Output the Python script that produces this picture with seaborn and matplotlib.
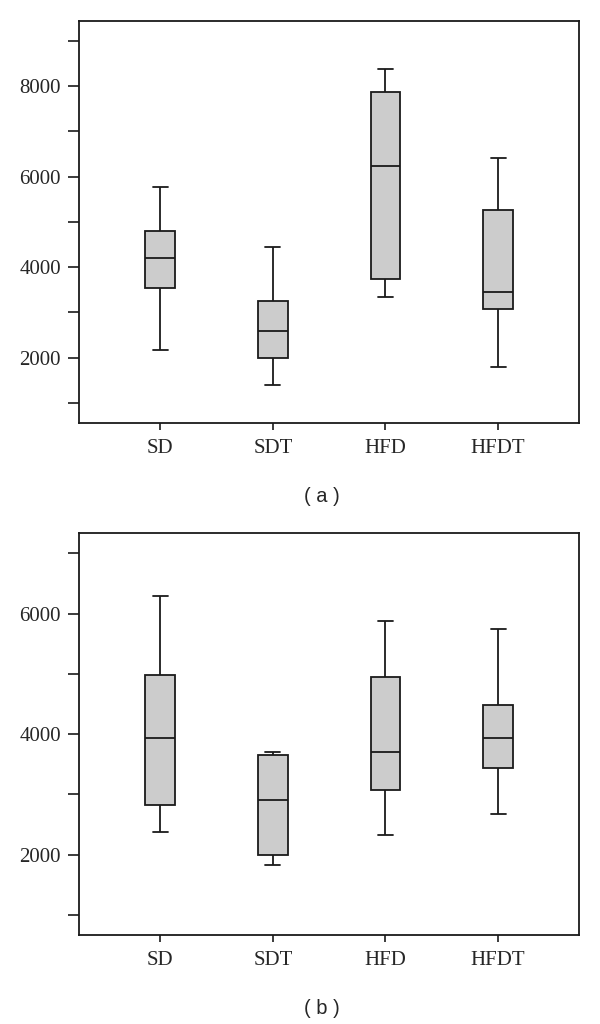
import numpy as np
import pandas as pd
import matplotlib
matplotlib.use("Agg")
import matplotlib.pyplot as plt
from matplotlib.ticker import MultipleLocator
import seaborn as sns

# groups on the x axis
groups = ["SD", "SDT", "HFD", "HFDT"]

# five-number summaries: min, q1, median, q3, max
# panel (a)
a_sd = [2170, 3530, 4205, 4800, 5760]
a_sdt = [1400, 2000, 2600, 3250, 4455]
a_hfd = [3350, 3730, 6240, 7868, 8368]
a_hfdt = [1790, 3070, 3460, 5255, 6418]
# panel (b)
b_sd = [2382, 2832, 3928, 4974, 6293]
b_sdt = [1828, 1994, 2910, 3646, 3696]
b_hfd = [2332, 3076, 3696, 4952, 5884]
b_hfdt = [2678, 3430, 3939, 4492, 5740]


def long_frame(series):
    rows = []
    for g, vals in zip(groups, series):
        for v in vals:
            rows.append((g, v))
    return pd.DataFrame(rows, columns=["group", "value"])


df_a = long_frame([a_sd, a_sdt, a_hfd, a_hfdt])
df_b = long_frame([b_sd, b_sdt, b_hfd, b_hfdt])

sns.set_style("ticks")
plt.rcParams["font.family"] = ["Liberation Serif", "DejaVu Serif"]

fig = plt.figure(figsize=(6, 10.24), dpi=100)
ax_a = fig.add_axes([0.1317, 0.5866, 0.8338, 0.3932])
ax_b = fig.add_axes([0.1317, 0.0866, 0.8338, 0.3932])


def draw(ax, df, ylim, label, label_y):
    sns.boxplot(data=df, x="group", y="value", order=groups, ax=ax,
                whis=(0, 100), width=0.264, color="#cccccc",
                linecolor="#1a1a1a", linewidth=1.3, saturation=1)
    ax.set_xlim(-0.72, 3.72)
    ax.set_ylim(*ylim)
    ax.yaxis.set_major_locator(MultipleLocator(2000))
    ax.yaxis.set_minor_locator(MultipleLocator(1000))
    ax.set_xlabel("")
    ax.set_ylabel("")
    for s in ax.spines.values():
        s.set_visible(True)
        s.set_linewidth(1.3)
        s.set_color("#1a1a1a")
    ax.tick_params(axis="y", which="both", length=8, width=1.2,
                   color="#1a1a1a", labelsize=15, pad=5)
    ax.tick_params(axis="x", length=5, width=1.2, color="#1a1a1a",
                   labelsize=15, pad=6)
    fig.text(0.536, label_y, label, ha="center", va="center",
             fontsize=14.5, family=["Liberation Sans", "DejaVu Sans"])


draw(ax_a, df_a, (552, 9442), "( a )", 1 - 496.7 / 1024)
draw(ax_b, df_b, (661, 7344), "( b )", 1 - 1008 / 1024)

fig.savefig("out.png", dpi=100, facecolor="white")
